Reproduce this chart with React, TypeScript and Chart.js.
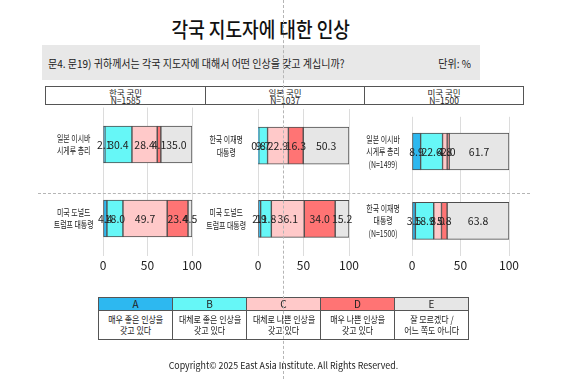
import React, { useEffect, useRef } from "react";
import { Chart, registerables } from "chart.js";

Chart.register(...registerables);

// ---------- data ----------
const segmentNames = ["A", "B", "C", "D", "E"];
const segmentDescriptions = [
  ["매우 좋은 인상을", "갖고 있다"],
  ["대체로 좋은 인상을", "갖고 있다"],
  ["대체로 나쁜 인상을", "갖고 있다"],
  ["매우 나쁜 인상을", "갖고 있다"],
  ["잘 모르겠다 /", "어느 쪽도 아니다"],
];
const panelTitles = ["한국 국민", "일본 국민", "미국 국민"];
const panelSizes = ["N=1585", "N=1037", "N=1500"];

const koreaCategories = [["일본 이시바", "시게루 총리"], ["미국 도널드", "트럼프 대통령"]];
const japanCategories = [["한국 이재명", "대통령"], ["미국 도널드", "트럼프 대통령"]];
const usCategories = [["일본 이시바", "시게루 총리", "(N=1499)"], ["한국 이재명", "대통령", "(N=1500)"]];

// values per row, in order A..E
const koreaOnIshiba = [2.1, 30.4, 28.4, 4.1, 35.0];
const koreaOnTrump = [4.4, 18.0, 49.7, 23.4, 4.5];
const japanOnLee = [0.8, 9.7, 22.9, 16.3, 50.3];
const japanOnTrump = [2.9, 11.8, 36.1, 34.0, 15.2];
const usOnIshiba = [8.9, 22.6, 4.8, 2.0, 61.7];
const usOnLee = [3.5, 18.9, 8.0, 5.8, 63.8];

const xTickValues = [0, 50, 100];

// ---------- style ----------
const COLORS = ["#2db8f0", "#66f7f7", "#ffc9c9", "#ff7474", "#e6e6e6"];
const FONT = '"Noto Sans CJK KR", "Noto Sans", sans-serif';
const TEXT = "#222222";
const LABEL_SQUEEZE = 0.73;

// draws the y-axis category labels slightly condensed (narrow typeface look)
const squeezeYLabels = {
  id: "squeezeYLabels",
  afterLayout(chart: any) {
    const s = chart.scales.y;
    if (!s || s.__squeezed) return;
    s.__squeezed = true;
    s._computeLabelArea = () => undefined;
    const orig = s.drawLabels;
    s.drawLabels = function (area: any) {
      const items = this.getLabelItems(area);
      const cx = items.length ? items[0].options.translation[0] : 0;
      const ctx = this.ctx;
      ctx.save();
      ctx.translate(cx, 0);
      ctx.scale(LABEL_SQUEEZE, 1);
      ctx.translate(-cx, 0);
      orig.call(this, area);
      ctx.restore();
    };
  },
};

const valueLabels = {
  id: "valueLabels",
  afterDatasetsDraw(chart: any) {
    const ctx = chart.ctx;
    ctx.save();
    ctx.font = `10.5px ${FONT}`;
    ctx.fillStyle = TEXT;
    ctx.textAlign = "center";
    ctx.textBaseline = "middle";
    chart.data.datasets.forEach((ds: any, di: number) => {
      const meta = chart.getDatasetMeta(di);
      meta.data.forEach((el: any, i: number) => {
        const p = el.getProps(["x", "base", "y"], true);
        ctx.fillText(Number(ds.data[i]).toFixed(1), (p.x + p.base) / 2, p.y + 0.5);
      });
    });
    ctx.restore();
  },
};

type PanelProps = {
  categories: string[][];
  rows: number[][];
  left: number;
  width: number;
  yAxisWidth: number;
  rightPad: number;
  labelPad: number;
};

const CANVAS_TOP = 100;
const CANVAS_H = 180;

function Panel({ categories, rows, left, width, yAxisWidth, rightPad, labelPad }: PanelProps) {
  const ref = useRef<HTMLCanvasElement | null>(null);
  useEffect(() => {
    if (!ref.current) return;
    const chart = new Chart(ref.current, {
      type: "bar",
      data: {
        labels: categories,
        datasets: segmentNames.map((name, i) => ({
          label: name,
          data: rows.map((r) => r[i]),
          backgroundColor: COLORS[i],
          borderColor: "#4d4d4d",
          borderWidth: 1,
          borderSkipped: false,
          barThickness: 37,
        })),
      },
      options: {
        indexAxis: "y",
        animation: false,
        responsive: false,
        events: [],
        layout: { padding: { top: 7.5, bottom: 4.5, left: 0, right: rightPad } },
        plugins: { legend: { display: false }, tooltip: { enabled: false } },
        scales: {
          x: {
            stacked: true,
            min: 0,
            max: 100,
            afterBuildTicks: (s: any) => {
              s.ticks = xTickValues.map((v) => ({ value: v }));
            },
            afterFit: (s: any) => {
              s.height = 20;
            },
            ticks: { font: { size: 12, family: FONT }, color: TEXT, padding: 3 },
            grid: { color: "#dcdcdc", drawTicks: false, lineWidth: 1 },
            border: { display: false },
          },
          y: {
            stacked: true,
            afterFit: (s: any) => {
              s.width = yAxisWidth;
            },
            ticks: {
              crossAlign: "center",
              font: { size: 9.5, family: FONT, lineHeight: 1.32 },
              color: TEXT,
              padding: labelPad,
            },
            grid: { display: false },
            border: { display: false },
          },
        },
      } as any,
      plugins: [squeezeYLabels, valueLabels],
    });
    return () => chart.destroy();
  }, []);
  return (
    <canvas
      ref={ref}
      width={width}
      height={CANVAS_H}
      style={{ position: "absolute", left, top: CANVAS_TOP, width, height: CANVAS_H }}
    />
  );
}

const squeeze = (origin: string, k = 0.86): React.CSSProperties => ({
  display: "inline-block",
  transform: `scaleX(${k})`,
  transformOrigin: origin,
  whiteSpace: "nowrap",
});

export default function App() {
  const headerBoxes = [
    { left: 45, width: 161 },
    { left: 205, width: 160 },
    { left: 364, width: 160 },
  ];
  const legendLeft = 98;
  const legendColW = 74;
  return (
    <div
      style={{
        position: "absolute",
        left: 0,
        top: 0,
        width: 567,
        height: 379,
        background: "#ffffff",
        fontFamily: FONT,
        color: TEXT,
        overflow: "hidden",
      }}
    >
      {/* title */}
      <div
        style={{
          position: "absolute",
          left: 42,
          top: 16,
          width: 438,
          height: 24,
          lineHeight: "24px",
          textAlign: "center",
          fontSize: 21,
          fontWeight: 500,
          color: "#111",
        }}
      >
        <span style={squeeze("center")}>각국 지도자에 대한 인상</span>
      </div>

      {/* question bar */}
      <div
        style={{
          position: "absolute",
          left: 42,
          top: 45,
          width: 438,
          height: 35,
          background: "#e8e8e8",
        }}
      >
        <div style={{ position: "absolute", left: 6, top: 11, fontSize: 11, lineHeight: "14px" }}>
          <span style={squeeze("left", 0.91)}>문4. 문19) 귀하께서는 각국 지도자에 대해서 어떤 인상을 갖고 계십니까?</span>
        </div>
        <div style={{ position: "absolute", right: 9, top: 11, fontSize: 11, lineHeight: "14px" }}>
          <span style={squeeze("right", 0.91)}>단위: %</span>
        </div>
      </div>

      {/* panel headers */}
      {headerBoxes.map((b, i) => (
        <div
          key={i}
          style={{
            position: "absolute",
            left: b.left,
            top: 86,
            width: b.width,
            height: 19,
            boxSizing: "border-box",
            border: "1px solid #555",
            textAlign: "center",
            fontSize: 8.5,
            lineHeight: "8px",
            paddingTop: 1,
          }}
        >
          <div>{panelTitles[i]}</div>
          <div>{panelSizes[i]}</div>
        </div>
      ))}

      {/* charts */}
      <Panel
        categories={koreaCategories}
        rows={[koreaOnIshiba, koreaOnTrump]}
        left={30}
        width={175}
        yAxisWidth={73}
        rightPad={11}
        labelPad={-6}
      />
      <Panel
        categories={japanCategories}
        rows={[japanOnLee, japanOnTrump]}
        left={195}
        width={170}
        yAxisWidth={63}
        rightPad={16}
        labelPad={-3.5}
      />
      <Panel
        categories={usCategories}
        rows={[usOnIshiba, usOnLee]}
        left={350}
        width={180}
        yAxisWidth={62}
        rightPad={21}
        labelPad={-2}
      />

      {/* horizontal separator */}
      <div
        style={{
          position: "absolute",
          left: 38,
          top: 193,
          width: 492,
          height: 0,
          borderTop: "1px dashed #b5b5b5",
        }}
      />

      {/* legend table */}
      {segmentNames.map((name, i) => (
        <React.Fragment key={name}>
          <div
            style={{
              position: "absolute",
              left: legendLeft + i * legendColW,
              top: 297,
              width: legendColW + 1,
              height: 14,
              boxSizing: "border-box",
              border: "1px solid #555",
              background: COLORS[i],
              textAlign: "center",
              fontSize: 10,
              lineHeight: "12px",
            }}
          >
            {name}
          </div>
          <div
            style={{
              position: "absolute",
              left: legendLeft + i * legendColW,
              top: 310,
              width: legendColW + 1,
              height: 30,
              boxSizing: "border-box",
              border: "1px solid #555",
              background: "#fff",
              textAlign: "center",
              fontSize: 9.5,
              lineHeight: "10.5px",
              paddingTop: 3,
            }}
          >
            {segmentDescriptions[i].map((line, k) => (
              <div key={k}>
                <span style={squeeze("center", 0.84)}>{line}</span>
              </div>
            ))}
          </div>
        </React.Fragment>
      ))}

      {/* copyright */}
      <div
        style={{
          position: "absolute",
          left: 0,
          top: 358,
          width: 566,
          textAlign: "center",
          fontSize: 9.5,
          lineHeight: "14px",
        }}
      >
        <span style={squeeze("center", 0.93)}>Copyright© 2025 East Asia Institute. All Rights Reserved.</span>
      </div>

      {/* vertical guide */}
      <div
        style={{
          position: "absolute",
          left: 283,
          top: 0,
          width: 0,
          height: 379,
          borderLeft: "1px dashed #b5b5b5",
          pointerEvents: "none",
        }}
      />
    </div>
  );
}
